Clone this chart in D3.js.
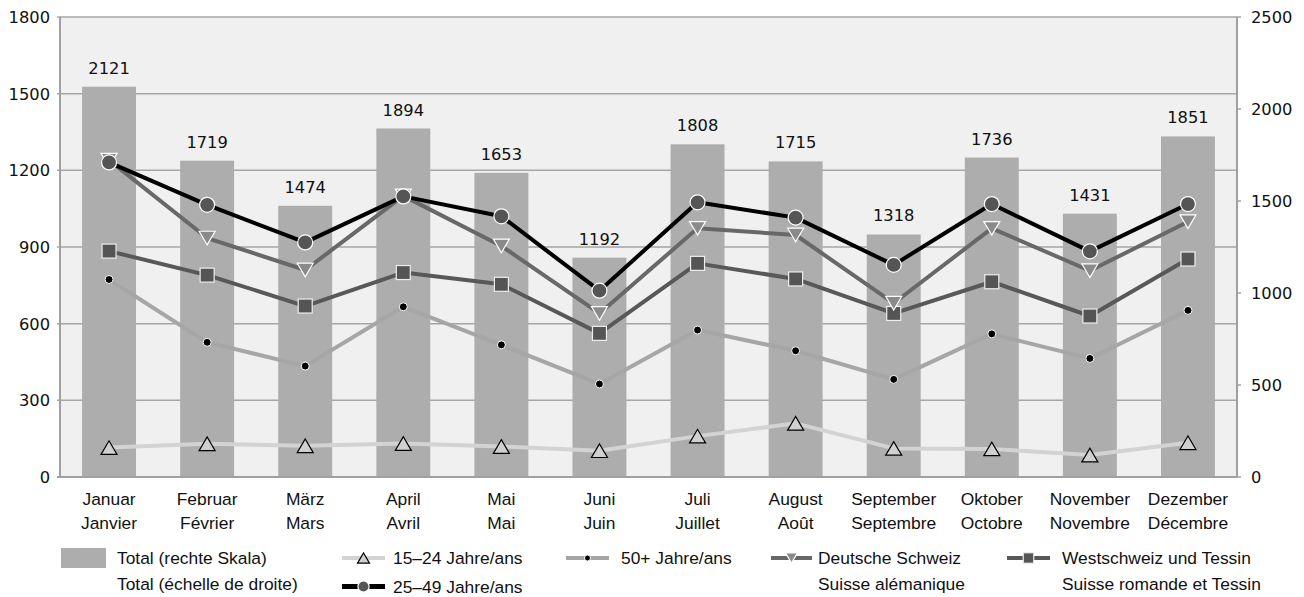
<!DOCTYPE html>
<html>
<head>
<meta charset="utf-8">
<script src="https://cdn.jsdelivr.net/npm/d3@7"></script>
<style>
  body { margin: 0; background: #fff; }
  .num { font-family: "DejaVu Sans", sans-serif; font-size: 16.3px; fill: #111; }
  .lab { font-family: "Liberation Sans", Arial, sans-serif; font-size: 17.4px; fill: #111; }
</style>
</head>
<body>
<svg id="chart" width="1304" height="597"></svg>
<script>
// months (German / French)
const monthsDe = ["Januar", "Februar", "März", "April", "Mai", "Juni", "Juli", "August", "September", "Oktober", "November", "Dezember"];
const monthsFr = ["Janvier", "Février", "Mars", "Avril", "Mai", "Juin", "Juillet", "Août", "Septembre", "Octobre", "Novembre", "Décembre"];

// total, right scale
const total = [2121, 1719, 1474, 1894, 1653, 1192, 1808, 1715, 1318, 1736, 1431, 1851];
// lines, left scale
const age1524 = [115, 130, 122, 131, 119, 103, 160, 210, 112, 110, 86, 134];
const age2549 = [1231, 1065, 918, 1098, 1020, 729, 1075, 1015, 830, 1068, 883, 1068];
const age50 = [773, 527, 434, 666, 517, 364, 575, 494, 382, 560, 464, 652];
const deutsch = [1240, 935, 810, 1100, 904, 640, 973, 947, 680, 973, 807, 999];
const west = [884, 790, 669, 800, 754, 562, 836, 775, 640, 764, 630, 853];

const leftTicks = [0, 300, 600, 900, 1200, 1500, 1800];
const rightTicks = [0, 500, 1000, 1500, 2000, 2500];

const svg = d3.select("#chart");
const plotL = 60, plotR = 1237, plotT = 17, plotB = 477;

const x = d3.scaleBand().domain(d3.range(12)).range([plotL, plotR]).paddingInner(0.45).paddingOuter(0.225);
const yL = d3.scaleLinear().domain([0, 1800]).range([plotB, plotT]);
const yR = d3.scaleLinear().domain([0, 2500]).range([plotB, plotT]);
const cx = i => x(i) + x.bandwidth() / 2;

// plot background
svg.append("rect").attr("x", plotL).attr("y", plotT).attr("width", plotR - plotL).attr("height", plotB - plotT).attr("fill", "#f0f0f0");

// gridlines + left labels
leftTicks.forEach(t => {
  svg.append("line").attr("x1", plotL - 3).attr("x2", plotR).attr("y1", yL(t)).attr("y2", yL(t))
    .attr("stroke", "#a6a6a6").attr("stroke-width", 1.5);
  svg.append("text").attr("class", "num").attr("x", 50).attr("y", yL(t) + 6).attr("text-anchor", "end").text(t);
});

// right axis ticks + labels
rightTicks.forEach(t => {
  svg.append("line").attr("x1", plotR).attr("x2", plotR + 4).attr("y1", yR(t)).attr("y2", yR(t))
    .attr("stroke", "#a0a0a0").attr("stroke-width", 1.5);
  svg.append("text").attr("class", "num").attr("x", 1251).attr("y", yR(t) + 6).text(t);
});

// bars
svg.selectAll(".bar").data(total).join("rect")
  .attr("x", (d, i) => x(i)).attr("width", x.bandwidth())
  .attr("y", d => yR(d)).attr("height", d => plotB - yR(d))
  .attr("fill", "#adadad");

svg.selectAll(".blab").data(total).join("text")
  .attr("class", "num").attr("text-anchor", "middle")
  .attr("x", (d, i) => cx(i)).attr("y", d => yR(d) - 13).text(d => d);

// axes frame
svg.append("line").attr("x1", plotL).attr("x2", plotL).attr("y1", plotT).attr("y2", plotB).attr("stroke", "#a0a0a0").attr("stroke-width", 2);
svg.append("line").attr("x1", plotR).attr("x2", plotR).attr("y1", plotT).attr("y2", plotB).attr("stroke", "#a0a0a0").attr("stroke-width", 2);
svg.append("line").attr("x1", plotL - 3).attr("x2", plotR).attr("y1", plotB).attr("y2", plotB).attr("stroke", "#a0a0a0").attr("stroke-width", 2);

// x labels
monthsDe.forEach((m, i) => {
  svg.append("text").attr("class", "lab").attr("text-anchor", "middle").attr("x", cx(i)).attr("y", 505).text(m);
  svg.append("text").attr("class", "lab").attr("text-anchor", "middle").attr("x", cx(i)).attr("y", 528.5).text(monthsFr[i]);
});

// marker drawers
const tri = (g, px, py, s, down, fill, stroke) => {
  const h = s * 0.85;
  const pts = down
    ? [[px - s / 2, py - h / 2], [px + s / 2, py - h / 2], [px, py + h / 2]]
    : [[px - s / 2, py + h / 2], [px + s / 2, py + h / 2], [px, py - h / 2]];
  g.append("path").attr("d", "M" + pts.join("L") + "Z").attr("fill", fill).attr("stroke", stroke).attr("stroke-width", 1.2);
};
const markers = {
  triUp: (g, px, py, sc) => tri(g, px, py, 16 * sc, false, "#d0d0d0", "#000"),
  triDown: (g, px, py, sc) => tri(g, px, py, 16 * sc, true, "#8a8a8a", "#fff"),
  circle: (g, px, py, sc) => g.append("circle").attr("cx", px).attr("cy", py).attr("r", 7.5 * sc).attr("fill", "#555").attr("stroke", "#fff").attr("stroke-width", 1.2),
  dot: (g, px, py, sc) => g.append("circle").attr("cx", px).attr("cy", py).attr("r", 4 * sc).attr("fill", "#000").attr("stroke", "#fff").attr("stroke-width", 1),
  square: (g, px, py, sc) => g.append("rect").attr("x", px - 7 * sc).attr("y", py - 7 * sc).attr("width", 14 * sc).attr("height", 14 * sc).attr("fill", "#555").attr("stroke", "#eee").attr("stroke-width", 1.2)
};

const series = [
  { data: age1524, color: "#d3d3d3", marker: "triUp" },
  { data: age50, color: "#a6a6a6", marker: "dot" },
  { data: west, color: "#585858", marker: "square" },
  { data: deutsch, color: "#686868", marker: "triDown" },
  { data: age2549, color: "#000", marker: "circle" }
];

const line = d3.line().x((d, i) => cx(i)).y(d => yL(d));
series.forEach(s => {
  const g = svg.append("g");
  g.append("path").attr("d", line(s.data)).attr("fill", "none").attr("stroke", s.color).attr("stroke-width", 4).attr("stroke-linejoin", "round");
  s.data.forEach((d, i) => markers[s.marker](g, cx(i), yL(d), 1));
});

// legend
svg.append("rect").attr("x", 61).attr("y", 548).attr("width", 45).attr("height", 20).attr("fill", "#adadad");
svg.append("text").attr("class", "lab").attr("x", 117).attr("y", 564.3).text("Total (rechte Skala)");
svg.append("text").attr("class", "lab").attr("x", 117).attr("y", 590).text("Total (échelle de droite)");

const legendItems = [
  { x1: 342, x2: 385, y: 558, tx: 393, w: 4, color: "#d3d3d3", marker: "triUp", lines: ["15–24 Jahre/ans"] },
  { x1: 342, x2: 385, y: 586.5, tx: 393, w: 5, color: "#000", marker: "circle", lines: ["25–49 Jahre/ans"] },
  { x1: 566, x2: 609, y: 558, tx: 621, w: 4, color: "#a6a6a6", marker: "dot", lines: ["50+ Jahre/ans"] },
  { x1: 771, x2: 812, y: 558, tx: 818, w: 4, color: "#686868", marker: "triDown", lines: ["Deutsche Schweiz", "Suisse alémanique"] },
  { x1: 1007, x2: 1050, y: 558, tx: 1062, w: 4, color: "#585858", marker: "square", lines: ["Westschweiz und Tessin", "Suisse romande et Tessin"] }
];
legendItems.forEach(l => {
  const g = svg.append("g");
  g.append("line").attr("x1", l.x1).attr("x2", l.x2).attr("y1", l.y).attr("y2", l.y).attr("stroke", l.color).attr("stroke-width", l.w);
  markers[l.marker](g, (l.x1 + l.x2) / 2, l.y, 0.75);
  l.lines.forEach((t, k) => {
    g.append("text").attr("class", "lab").attr("x", l.tx).attr("y", l.y + 6.3 + k * 25.7).text(t);
  });
});
</script>
</body>
</html>
